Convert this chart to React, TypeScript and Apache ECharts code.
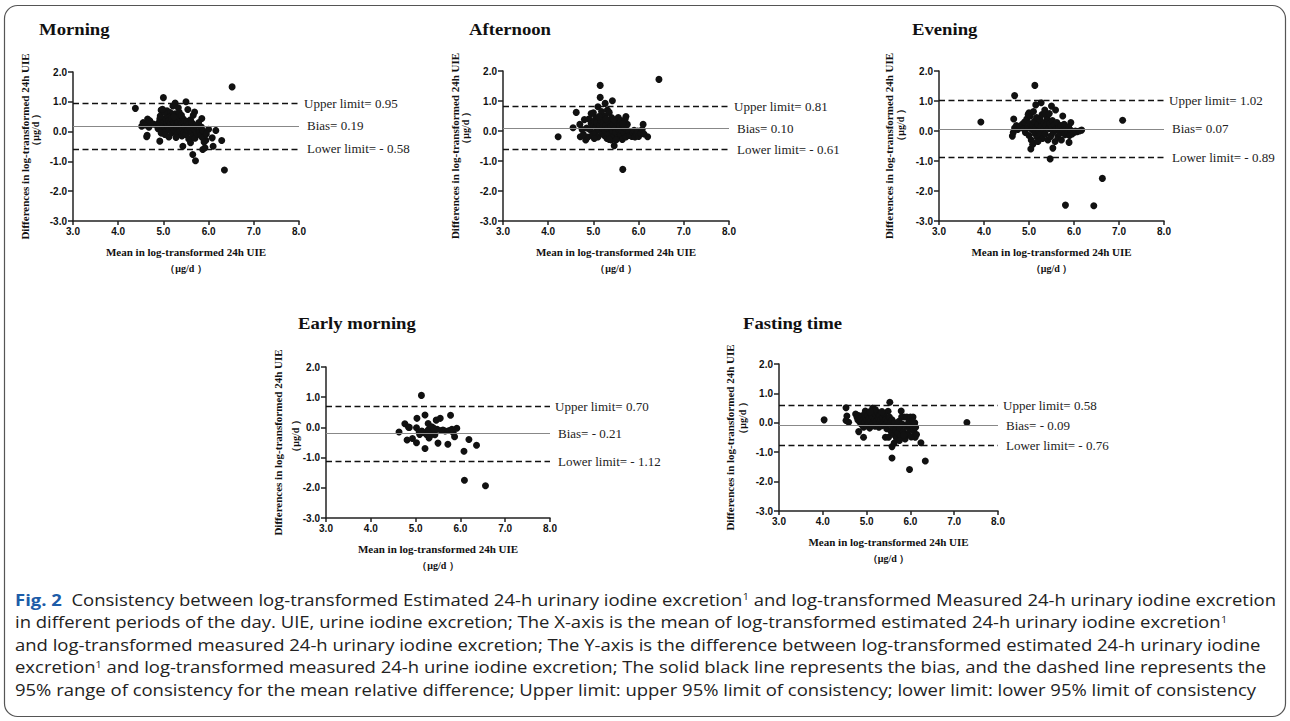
import React, { useEffect, useRef } from "react";
import * as echarts from "echarts";

// ---------- data ----------
const panelTitles = ["Morning", "Afternoon", "Evening", "Early morning", "Fasting time"];
const upperLimits = [0.95, 0.81, 1.02, 0.7, 0.58];
const biasValues = [0.19, 0.1, 0.07, -0.21, -0.09];
const lowerLimits = [-0.58, -0.61, -0.89, -1.12, -0.76];
const xRange = [3, 8];
const yRange = [-3, 2];
const tickInterval = 1;
const xAxisName = "Mean in log-transformed 24h UIE";
const yAxisName = "Differences in log-transformed 24h UIE";
const unitLabel = "（μg/d ）";

const morningPoints = [
  [6.52, 1.5], [5.0, 1.14], [4.38, 0.78], [5.5, 1.0], [5.26, 0.96], [6.35, -1.29], [5.71, -0.98], [5.65, -0.77],
  [5.87, -0.6], [6.1, -0.49], [6.29, -0.3], [6.16, 0.04], [5.43, -0.49], [4.92, -0.32], [4.63, -0.17], [4.64, -0.12],
  [5.69, 0.66], [5.54, 0.74], [5.15, 0.64], [5.85, 0.44], [5.6, -0.37], [5.94, -0.29], [6.0, 0.08], [6.08, -0.21],
  [5.92, -0.54], [4.55, 0.3], [4.52, 0.18], [4.6, 0.22], [4.65, 0.42], [4.7, 0.36], [4.72, 0.28], [4.78, 0.25],
  [4.68, 0.15], [4.85, 0.22], [4.88, 0.1], [4.9, 0.3], [4.92, 0.42], [4.95, 0.72], [4.97, 0.05], [4.98, 0.18],
  [5.0, 0.25], [5.02, 0.35], [5.04, 0.12], [5.05, 0.45], [5.06, 0.02], [5.08, 0.28], [5.1, 0.18], [5.1, 0.52],
  [5.12, 0.38], [5.13, 0.08], [5.15, 0.22], [5.16, 0.3], [5.18, 0.45], [5.18, -0.05], [5.2, 0.15], [5.21, 0.86],
  [5.22, 0.32], [5.24, 0.05], [5.25, 0.25], [5.26, 0.6], [5.28, 0.4], [5.29, 0.12], [5.3, 0.2], [5.31, -0.08],
  [5.32, 0.3], [5.33, 0.8], [5.35, 0.5], [5.36, 0.15], [5.37, 0.02], [5.38, 0.35], [5.4, 0.25], [5.41, -0.15],
  [5.42, 0.1], [5.44, 0.42], [5.45, -0.02], [5.46, 0.28], [5.48, 0.18], [5.5, -0.1], [5.52, 0.35], [5.53, 0.05],
  [5.55, 0.22], [5.56, -0.25], [5.58, 0.12], [5.6, 0.4], [5.62, -0.05], [5.63, 0.3], [5.65, -0.15], [5.66, 0.55],
  [5.68, 0.08], [5.7, -0.22], [5.72, 0.2], [5.75, -0.08], [5.78, 0.3], [5.8, 0.02], [5.82, -0.12], [5.84, 0.15],
  [5.86, -0.2], [5.88, 0.02], [5.9, -0.35], [5.95, -0.08], [4.95, -0.05], [5.03, -0.1], [5.12, -0.18], [4.93, 0.52],
  [5.08, 0.7], [5.02, 0.65], [4.98, 0.75], [5.23, 0.5], [5.35, 0.65], [5.28, -0.2], [5.4, 0.55],
];

const afternoonPoints = [
  [6.45, 1.72], [5.15, 1.52], [5.15, 1.12], [5.42, 1.01], [5.26, 0.92], [5.1, 0.81], [4.62, 0.62], [4.22, -0.19],
  [5.65, -1.28], [5.46, -0.49], [6.2, -0.19], [6.1, 0.22], [5.72, 0.48], [4.55, 0.11], [4.7, 0.22], [4.83, -0.3],
  [4.71, -0.19], [5.0, 0.61], [5.31, 0.7], [5.35, 0.62], [5.4, 0.45], [5.25, 0.5], [5.05, 0.42], [4.9, 0.4],
  [4.8, 0.38], [4.85, 0.1], [4.88, -0.2], [4.92, 0.05], [4.95, 0.25], [4.98, -0.12], [5.0, 0.18], [5.02, 0.32],
  [5.04, -0.05], [5.06, 0.12], [5.08, 0.28], [5.1, -0.2], [5.12, 0.05], [5.14, 0.2], [5.16, 0.35], [5.18, -0.08],
  [5.2, 0.1], [5.22, 0.25], [5.24, -0.15], [5.26, 0.02], [5.28, 0.18], [5.3, -0.25], [5.32, 0.08], [5.34, 0.3],
  [5.36, -0.1], [5.38, 0.15], [5.4, -0.3], [5.42, 0.0], [5.44, 0.22], [5.46, -0.18], [5.48, 0.1], [5.5, -0.05],
  [5.52, 0.28], [5.54, -0.22], [5.56, 0.05], [5.58, 0.18], [5.6, -0.12], [5.62, 0.02], [5.64, -0.28], [5.66, 0.15],
  [5.68, -0.05], [5.7, 0.1], [5.72, -0.2], [5.75, 0.22], [5.78, 0.0], [5.8, -0.15], [5.85, -0.18], [5.88, -0.05],
  [5.9, 0.02], [5.92, -0.2], [5.95, -0.1], [5.98, 0.0], [6.0, -0.18], [6.05, -0.08], [6.08, 0.05], [6.12, -0.1],
  [5.55, 0.45], [5.6, 0.35], [5.7, 0.38], [4.95, 0.58], [5.18, 0.65], [5.12, 0.48], [5.28, 0.4], [4.78, -0.12],
  [4.75, 0.05], [5.02, -0.25], [5.35, -0.28], [5.5, -0.3], [5.65, 0.25], [5.45, 0.38],
];

const eveningPoints = [
  [5.13, 1.52], [4.68, 1.18], [3.93, 0.3], [7.08, 0.36], [4.66, 0.4], [5.47, -0.93], [6.63, -1.58], [5.81, -2.47],
  [6.44, -2.49], [5.04, -0.6], [5.53, -0.57], [5.89, -0.38], [5.27, 0.94], [5.15, 0.87], [5.5, 0.83], [5.59, 0.7],
  [5.35, 0.7], [5.0, 0.61], [5.75, 0.5], [5.93, 0.28], [6.17, 0.03], [4.63, -0.17], [4.68, 0.1], [4.72, 0.18],
  [4.75, 0.05], [4.8, 0.15], [4.85, 0.22], [4.88, 0.08], [4.9, 0.3], [4.92, -0.05], [4.95, 0.4], [4.97, 0.12],
  [5.0, -0.15], [5.02, 0.25], [5.03, 0.5], [5.05, -0.3], [5.06, 0.05], [5.08, 0.18], [5.1, -0.4], [5.12, 0.32],
  [5.13, -0.08], [5.15, 0.1], [5.17, 0.45], [5.18, -0.2], [5.2, 0.22], [5.22, 0.02], [5.24, 0.38], [5.25, -0.12],
  [5.27, 0.15], [5.29, 0.55], [5.3, -0.25], [5.32, 0.05], [5.34, 0.28], [5.36, -0.1], [5.38, 0.18], [5.4, 0.42],
  [5.42, -0.3], [5.44, 0.08], [5.46, 0.25], [5.48, -0.18], [5.5, 0.12], [5.52, 0.35], [5.54, -0.05], [5.56, 0.2],
  [5.58, -0.35], [5.6, 0.05], [5.62, 0.28], [5.64, -0.2], [5.66, 0.1], [5.68, -0.08], [5.7, 0.18], [5.72, -0.3],
  [5.75, 0.02], [5.78, 0.22], [5.8, -0.12], [5.83, 0.08], [5.86, -0.05], [5.88, 0.15], [5.9, -0.15], [5.93, 0.02],
  [5.96, -0.1], [6.0, -0.05], [6.03, 0.0], [6.07, -0.02], [6.12, 0.0], [5.08, -0.45], [5.2, -0.35], [5.35, 0.6],
  [5.45, 0.58], [4.98, 0.55], [5.1, 0.65], [4.65, -0.05],
];

const earlyMorningPoints = [
  [5.13, 1.06], [4.63, -0.15], [4.76, 0.12], [4.84, 0.01], [4.81, -0.42], [4.93, -0.37], [5.02, -0.51], [5.21, -0.7],
  [5.03, 0.3], [5.21, 0.41], [5.02, -0.01], [5.09, -0.23], [5.28, 0.13], [5.3, -0.35], [5.46, 0.24], [5.55, 0.3],
  [5.5, -0.52], [5.72, -0.56], [5.78, 0.4], [5.92, -0.03], [5.87, -0.31], [6.19, -0.4], [6.36, -0.59], [6.08, -0.79],
  [6.09, -1.75], [6.56, -1.93], [5.08, -0.15], [5.17, -0.17], [5.33, -0.12], [5.39, -0.17], [5.43, -0.24], [5.48, -0.06],
  [5.61, -0.09], [5.66, -0.12], [5.75, -0.1], [5.81, -0.06], [5.28, -0.09], [5.36, 0.02], [5.24, -0.23], [5.57, -0.1],
  [5.84, -0.17], [4.86, 0.0], [5.32, -0.28], [5.4, -0.02], [5.14, -0.12],
];

const fastingPoints = [
  [4.03, 0.1], [7.29, 0.01], [5.53, 0.7], [4.53, 0.51], [4.55, 0.23], [4.53, 0.08], [4.59, 0.02], [4.93, -0.49],
  [5.58, -1.2], [6.34, -1.3], [5.98, -1.59], [5.58, -0.81], [5.63, -0.69], [6.24, -0.68], [5.79, 0.4], [4.97, 0.4],
  [5.14, 0.5], [5.49, 0.39], [5.43, -0.49], [5.5, -0.49], [4.82, -0.3], [6.11, -0.49],
  [4.75, 0.3], [4.78, 0.2], [4.8, 0.1], [4.82, 0.25], [4.85, 0.02], [4.86, 0.15], [4.88, -0.05], [4.9, 0.22],
  [4.92, 0.08], [4.93, -0.15], [4.95, 0.3], [4.96, 0.0], [4.98, 0.18], [5.0, -0.1], [5.01, 0.1], [5.03, 0.25],
  [5.04, -0.02], [5.06, 0.15], [5.07, -0.18], [5.09, 0.05], [5.1, 0.32], [5.12, -0.08], [5.13, 0.2], [5.15, 0.0],
  [5.16, 0.4], [5.18, 0.12], [5.19, -0.12], [5.21, 0.28], [5.22, 0.05], [5.24, -0.05], [5.25, 0.35], [5.27, 0.15],
  [5.28, -0.15], [5.3, 0.25], [5.31, 0.02], [5.33, 0.1], [5.35, -0.1], [5.36, 0.2], [5.38, 0.0], [5.4, 0.3],
  [5.42, -0.08], [5.44, 0.12], [5.46, -0.2], [5.48, 0.05], [5.52, 0.2], [5.54, -0.02], [5.2, 0.45], [5.08, 0.38],
  [5.35, 0.38], [5.56, -0.3], [5.58, 0.1], [5.6, -0.15], [5.62, -0.4], [5.64, 0.0], [5.66, -0.25], [5.68, -0.52],
  [5.7, -0.08], [5.72, -0.35], [5.74, 0.05], [5.76, -0.18], [5.78, -0.45], [5.8, 0.2], [5.82, -0.05], [5.84, -0.3],
  [5.86, 0.2], [5.88, -0.55], [5.9, -0.12], [5.92, 0.2], [5.94, -0.38], [5.96, 0.02], [5.98, -0.22], [6.0, 0.2],
  [6.02, -0.48], [6.04, -0.1], [6.06, 0.2], [6.08, -0.3], [6.1, 0.0], [6.12, -0.15], [6.14, -0.4], [5.85, -0.42],
  [5.75, -0.6], [5.95, -0.05], [6.05, 0.05],
];

const panelPoints = [morningPoints, afternoonPoints, eveningPoints, earlyMorningPoints, fastingPoints];

const captionLines = [
  "{fig|Fig. 2}  Consistency between log-transformed Estimated 24-h urinary iodine excretion{sup|1} and log-transformed Measured 24-h urinary iodine excretion",
  "in different periods of the day. UIE, urine iodine excretion; The X-axis is the mean of log-transformed estimated 24-h urinary iodine excretion{sup|1}",
  "and log-transformed measured 24-h urinary iodine excretion; The Y-axis is the difference between log-transformed estimated 24-h urinary iodine",
  "excretion{sup|1} and log-transformed measured 24-h urine iodine excretion; The solid black line represents the bias, and the dashed line represents the",
  "95% range of consistency for the mean relative difference; Upper limit: upper 95% limit of consistency; lower limit: lower 95% limit of consistency",
];

// ---------- layout ----------
const layouts = [
  { left: 73, top: 72, width: 226, height: 149, titleX: 39, titleY: 29, yNameX: 25, unitX: 35, unitY: 130 },
  { left: 503, top: 71, width: 226, height: 150, titleX: 469, titleY: 29, yNameX: 455, unitX: 465, unitY: 128 },
  { left: 939, top: 71, width: 225, height: 150, titleX: 912, titleY: 29, yNameX: 889, unitX: 900, unitY: 125 },
  { left: 326, top: 367, width: 224, height: 151, titleX: 298, titleY: 323, yNameX: 278, unitX: 295, unitY: 436 },
  { left: 779, top: 364, width: 219, height: 147, titleX: 743, titleY: 323, yNameX: 730, unitX: 742, unitY: 418 },
];

const SERIF = '"Liberation Serif", "Times New Roman", serif';
const SANS = '"Liberation Sans", Arial, sans-serif';
const CAP_FONT = '"Open Sans", "Noto Sans", sans-serif';

const fmt = (v: number) => (v < 0 ? "- " + Math.abs(v).toFixed(2) : v.toFixed(2));

function measure(font: string, text: string) {
  const c = document.createElement("canvas").getContext("2d");
  if (!c) return text.length * 7;
  c.font = font;
  return c.measureText(text).width;
}

export default function App() {
  const ref = useRef<HTMLDivElement>(null);
  useEffect(() => {
    if (!ref.current) return;
    const chart = echarts.init(ref.current, undefined, { renderer: "svg" });

    const axisCommon = {
      axisLine: { show: true, onZero: false, lineStyle: { color: "#222", width: 1.5 } },
      axisTick: { show: true, length: 4, lineStyle: { color: "#222", width: 1.5 } },
      splitLine: { show: false },
      axisLabel: {
        fontFamily: SANS,
        fontWeight: "bold" as const,
        fontSize: 10,
        color: "#111",
        formatter: (v: number) => v.toFixed(1),
      },
    };

    const grids = layouts.map((l) => ({
      left: l.left,
      top: l.top,
      width: l.width,
      height: l.height,
      containLabel: false,
      outerBoundsMode: "none",
    }));

    const xAxes = layouts.map((_, i) => ({
      type: "value",
      gridIndex: i,
      min: xRange[0],
      max: xRange[1],
      interval: tickInterval,
      ...axisCommon,
      axisLabel: { ...axisCommon.axisLabel, margin: 5 },
    }));
    const yAxes = layouts.map((_, i) => ({
      type: "value",
      gridIndex: i,
      min: yRange[0],
      max: yRange[1],
      interval: tickInterval,
      ...axisCommon,
      axisTick: { ...axisCommon.axisTick, length: 5 },
      axisLabel: { ...axisCommon.axisLabel, margin: 6 },
    }));

    const dashed = { type: [6, 3.5], color: "#111", width: 1.3 };
    const series = panelPoints.map((pts, i) => ({
      type: "scatter",
      xAxisIndex: i,
      yAxisIndex: i,
      data: pts,
      symbol: "circle",
      symbolSize: 7,
      itemStyle: { color: "#111", opacity: 1 },
      silent: true,
      markLine: {
        silent: true,
        symbol: ["none", "none"],
        label: {
          show: true,
          position: "end",
          color: "#222",
          fontFamily: SERIF,
          fontSize: 13,
        },
        data: [
          { yAxis: upperLimits[i], lineStyle: dashed, label: { formatter: "Upper limit= " + fmt(upperLimits[i]), distance: 5 } },
          {
            yAxis: biasValues[i],
            lineStyle: { type: "solid", color: "#888", width: 1 },
            label: { formatter: "Bias= " + fmt(biasValues[i]), distance: 8 },
          },
          { yAxis: lowerLimits[i], lineStyle: dashed, label: { formatter: "Lower limit= " + fmt(lowerLimits[i]), distance: 8 } },
        ],
      },
    }));

    const graphics: any[] = [
      {
        type: "rect",
        silent: true,
        shape: { x: 4.5, y: 5.5, width: 1281, height: 711, r: 13 },
        style: { fill: "none", stroke: "#555", lineWidth: 1.2 },
      },
    ];
    layouts.forEach((l, i) => {
      const cx = l.left + l.width / 2;
      const cy = l.top + l.height / 2;
      const bottom = l.top + l.height;
      graphics.push(
        {
          type: "text",
          x: l.titleX,
          y: l.titleY,
          scaleX: 1.1,
          style: { text: panelTitles[i], font: `bold 17px ${SERIF}`, fill: "#111", align: "left", verticalAlign: "middle" },
        },
        {
          type: "text",
          x: l.yNameX,
          y: cy,
          rotation: Math.PI / 2,
          style: { text: yAxisName, font: `bold 11px ${SERIF}`, fill: "#111", align: "center", verticalAlign: "middle" },
        },
        {
          type: "text",
          x: l.unitX,
          y: l.unitY,
          rotation: Math.PI / 2,
          style: { text: unitLabel, font: `bold 10px ${SERIF}`, fill: "#111", align: "center", verticalAlign: "middle" },
        },
        {
          type: "text",
          x: cx,
          y: bottom + 31,
          style: { text: xAxisName, font: `bold 11px ${SERIF}`, fill: "#111", align: "center", verticalAlign: "middle" },
        },
        {
          type: "text",
          x: cx,
          y: bottom + 47,
          style: { text: unitLabel, font: `bold 10px ${SERIF}`, fill: "#111", align: "center", verticalAlign: "middle" },
        }
      );
    });

    // caption
    const capSize = 15.5;
    const mainFont = `${capSize}px ${CAP_FONT}`;
    const boldFont = `bold ${capSize}px ${CAP_FONT}`;
    const w1 =
      measure(boldFont, "Fig. 2") +
      measure(mainFont, "  Consistency between log-transformed Estimated 24-h urinary iodine excretion") +
      measure(`9px ${CAP_FONT}`, "1") +
      measure(mainFont, " and log-transformed Measured 24-h urinary iodine excretion");
    const capScale = 1261 / w1;
    const captionY = [600, 622.5, 645, 667.5, 690];
    captionLines.forEach((line, i) => {
      graphics.push({
        type: "text",
        x: 15,
        y: captionY[i],
        scaleX: capScale,
        style: {
          text: line,
          font: mainFont,
          fill: "#222",
          align: "left",
          verticalAlign: "middle",
          rich: {
            fig: { fontFamily: CAP_FONT, fontSize: capSize, fontWeight: "bold", fill: "#1c5ca8" },
            sup: { fontFamily: CAP_FONT, fontSize: 9, fill: "#222", verticalAlign: "top", lineHeight: 10 },
          },
        },
      });
    });

    chart.setOption({
      animation: false,
      backgroundColor: "#fff",
      grid: grids,
      xAxis: xAxes,
      yAxis: yAxes,
      series,
      graphic: graphics,
    } as any);

    return () => chart.dispose();
  }, []);

  return (
    <div
      ref={ref}
      style={{ position: "fixed", left: 0, top: 0, width: 1290, height: 721, background: "#fff" }}
    />
  );
}
